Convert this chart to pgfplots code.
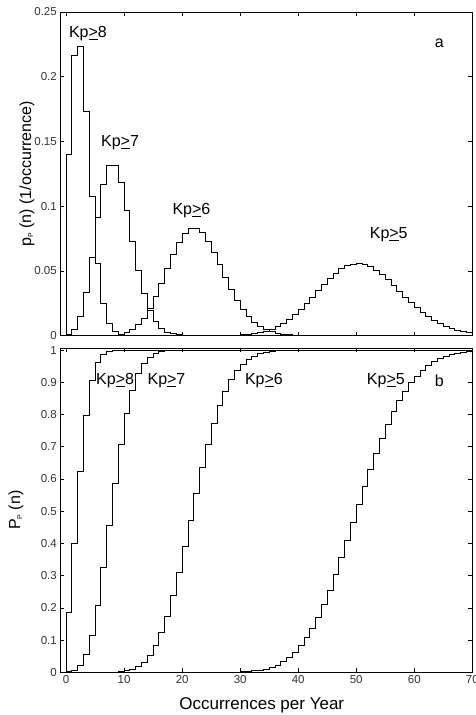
\documentclass[border=0pt]{standalone}
\usepackage{pgfplots}
\pgfplotsset{compat=1.18}
\usepackage{fontspec}
\setmainfont{Liberation Sans}
\newcommand{\kp}[1]{Kp\underline{\hbox{>}}#1}
\tikzset{lab/.style={font=\fontsize{16}{18}\selectfont, anchor=center, inner sep=0pt}}
\pgfplotsset{st/.style={black, mark=none, line width=0.9pt, const plot}}
\begin{document}
\begin{tikzpicture}[x=1pt,y=1pt]
\useasboundingbox (0,0) rectangle (475,715);
\pgfplotsset{
  myaxis/.style={
    scale only axis, width=412pt, anchor=south west,
    xmin=-1, xmax=70,
    xtick={0,10,20,30,40,50,60,70},
    tick align=inside, major tick length=4pt,
    axis line style={line width=0.8pt},
    every tick/.style={black, line width=0.6pt},
    tick label style={font=\fontsize{11.5}{13}\selectfont, text=black!80},
    label style={font=\fontsize{16}{18}\selectfont},
    /pgf/number format/assume math mode=true,
    clip=true,
  },
}
% ---------------- top panel ----------------
\begin{axis}[myaxis,
  at={(60.3pt,379.3pt)}, height=323.7pt,
  ymin=0, ymax=0.25,
  xticklabels={},
  ytick={0,0.05,0.1,0.15,0.2,0.25},
  yticklabels={0,0.05,0.1,0.15,0.2,0.25},
  ylabel={p\raisebox{-2pt}{\fontsize{7}{7}\selectfont P} (n) (1/occurrence)},
  ylabel style={at={(axis description cs:-0.0808,0.5)}, anchor=center},
]
% Kp>=8
\addplot[st] coordinates {(0,0)(0,0.13965)(1,0.21646)(2,0.22368)(3,0.17335)(4,0.10748)(5,0.05553)(6,0.02459)(7,0.00953)(8,0.00328)(9,0.00102)(10,0.00029)(11,0.00007)(12,0.00002)(13,0)(70,0)};
% Kp>=7
\addplot[st] coordinates {(0,0)(0,0.00111)(1,0.00500)(2,0.01499)(3,0.03374)(4,0.06073)(5,0.09109)(6,0.11712)(7,0.13176)(8,0.13176)(9,0.11858)(10,0.09702)(11,0.07277)(12,0.05038)(13,0.03238)(14,0.01943)(15,0.01093)(16,0.00579)(17,0.00289)(18,0.00137)(19,0.00062)(20,0.00026)(21,0.00011)(22,0.00004)(23,0.00002)(24,0)(70,0)};
% Kp>=6
\addplot[st] coordinates {(0,0)(5,0.00002)(6,0.00007)(7,0.00020)(8,0.00051)(9,0.00117)(10,0.00245)(11,0.00470)(12,0.00831)(13,0.01365)(14,0.02092)(15,0.03008)(16,0.04069)(17,0.05200)(18,0.06294)(19,0.07239)(20,0.07928)(21,0.08288)(22,0.08288)(23,0.07943)(24,0.07308)(25,0.06464)(26,0.05507)(27,0.04523)(28,0.03588)(29,0.02750)(30,0.02041)(31,0.01467)(32,0.01022)(33,0.00692)(34,0.00454)(35,0.00290)(36,0.00181)(37,0.00109)(38,0.00064)(39,0.00037)(40,0.00021)(41,0.00011)(42,0.00006)(43,0.00003)(44,0.00002)(45,0)(70,0)};
% Kp>=5
\addplot[st] coordinates {(0,0)(22,0.000004)(23,0.000009)(24,0.00002)(25,0.00004)(26,0.00007)(27,0.00013)(28,0.00023)(29,0.00040)(30,0.00066)(31,0.00106)(32,0.00164)(33,0.00248)(34,0.00364)(35,0.00518)(36,0.00718)(37,0.00970)(38,0.01276)(39,0.01636)(40,0.02047)(41,0.02500)(42,0.02983)(43,0.03478)(44,0.03964)(45,0.04421)(46,0.04826)(47,0.05157)(48,0.05399)(49,0.05540)(50,0.05572)(51,0.05497)(52,0.05321)(53,0.05055)(54,0.04715)(55,0.04319)(56,0.03887)(57,0.03438)(58,0.02990)(59,0.02556)(60,0.02150)(61,0.01779)(62,0.01448)(63,0.01161)(64,0.00916)(65,0.00712)(66,0.00545)(67,0.00411)(68,0.00306)(69,0.00224)(70,0.00224)};
\node[lab] at (axis cs:3.77,0.233) {\kp{8}};
\node[lab] at (axis cs:9.29,0.149) {\kp{7}};
\node[lab] at (axis cs:21.6,0.0964) {\kp{6}};
\node[lab] at (axis cs:55.6,0.0778) {\kp{5}};
\node[lab] at (axis cs:64.3,0.226) {a};
\end{axis}
% ---------------- bottom panel ----------------
\begin{axis}[myaxis,
  at={(60.3pt,42.7pt)}, height=324pt,
  ymin=0, ymax=1.0056,
  ytick={0,0.1,0.2,0.3,0.4,0.5,0.6,0.7,0.8,0.9,1},
  yticklabels={0,0.1,0.2,0.3,0.4,0.5,0.6,0.7,0.8,0.9,1},
  xticklabels={0,10,20,30,40,50,60,70},
  xlabel={Occurrences per Year},
  xlabel style={at={(axis description cs:0.489,-0.102)}, anchor=center, font=\fontsize{17}{19}\selectfont},
  ylabel={P\raisebox{-2pt}{\fontsize{7}{7}\selectfont P} (n)},
  ylabel style={at={(axis description cs:-0.1075,0.5)}, anchor=center},
]
% Kp>=8
\addplot[st] coordinates {(0,0)(0,0.18470)(1,0.40116)(2,0.62484)(3,0.79819)(4,0.90567)(5,0.96120)(6,0.98579)(7,0.99532)(8,0.99860)(9,0.99962)(10,0.99991)(11,0.99998)(12,1)(70,1)};
% Kp>=7
\addplot[st] coordinates {(0,0)(0,0.00123)(1,0.00623)(2,0.02123)(3,0.05496)(4,0.11569)(5,0.20678)(6,0.32390)(7,0.45565)(8,0.58741)(9,0.70599)(10,0.80301)(11,0.87577)(12,0.92615)(13,0.95853)(14,0.97796)(15,0.98889)(16,0.99468)(17,0.99757)(18,0.99894)(19,0.99956)(20,0.99982)(21,0.99993)(22,0.99997)(23,0.99999)(24,1)(70,1)};
% Kp>=6
\addplot[st] coordinates {(0,0)(5,0.00003)(6,0.00010)(7,0.00030)(8,0.00081)(9,0.00198)(10,0.00443)(11,0.00912)(12,0.01743)(13,0.03107)(14,0.05200)(15,0.08208)(16,0.12277)(17,0.17477)(18,0.23771)(19,0.31010)(20,0.38938)(21,0.47226)(22,0.55514)(23,0.63457)(24,0.70765)(25,0.77229)(26,0.82736)(27,0.87260)(28,0.90847)(29,0.93597)(30,0.95638)(31,0.97105)(32,0.98127)(33,0.98818)(34,0.99273)(35,0.99563)(36,0.99744)(37,0.99853)(38,0.99917)(39,0.99954)(40,0.99975)(41,0.99986)(42,0.99993)(43,0.99996)(44,0.99998)(45,1)(70,1)};
% Kp>=5
\addplot[st] coordinates {(0,0)(24,0.00004)(25,0.00008)(26,0.00015)(27,0.00028)(28,0.00051)(29,0.00091)(30,0.00157)(31,0.00263)(32,0.00427)(33,0.00675)(34,0.01039)(35,0.01557)(36,0.02275)(37,0.03245)(38,0.04521)(39,0.06156)(40,0.08203)(41,0.10703)(42,0.13686)(43,0.17163)(44,0.21128)(45,0.25549)(46,0.30374)(47,0.35531)(48,0.40931)(49,0.46470)(50,0.52043)(51,0.57540)(52,0.62861)(53,0.67916)(54,0.72631)(55,0.76950)(56,0.80837)(57,0.84276)(58,0.87265)(59,0.89821)(60,0.91971)(61,0.93749)(62,0.95198)(63,0.96358)(64,0.97275)(65,0.97987)(66,0.98532)(67,0.98943)(68,0.99249)(69,0.99473)(70,0.99473)};
\node[lab] at (axis cs:8.45,0.905) {\kp{8}};
\node[lab] at (axis cs:17.3,0.905) {\kp{7}};
\node[lab] at (axis cs:34.1,0.905) {\kp{6}};
\node[lab] at (axis cs:55.1,0.905) {\kp{5}};
\node[lab] at (axis cs:64.3,0.905) {b};
\end{axis}
\end{tikzpicture}
\end{document}
